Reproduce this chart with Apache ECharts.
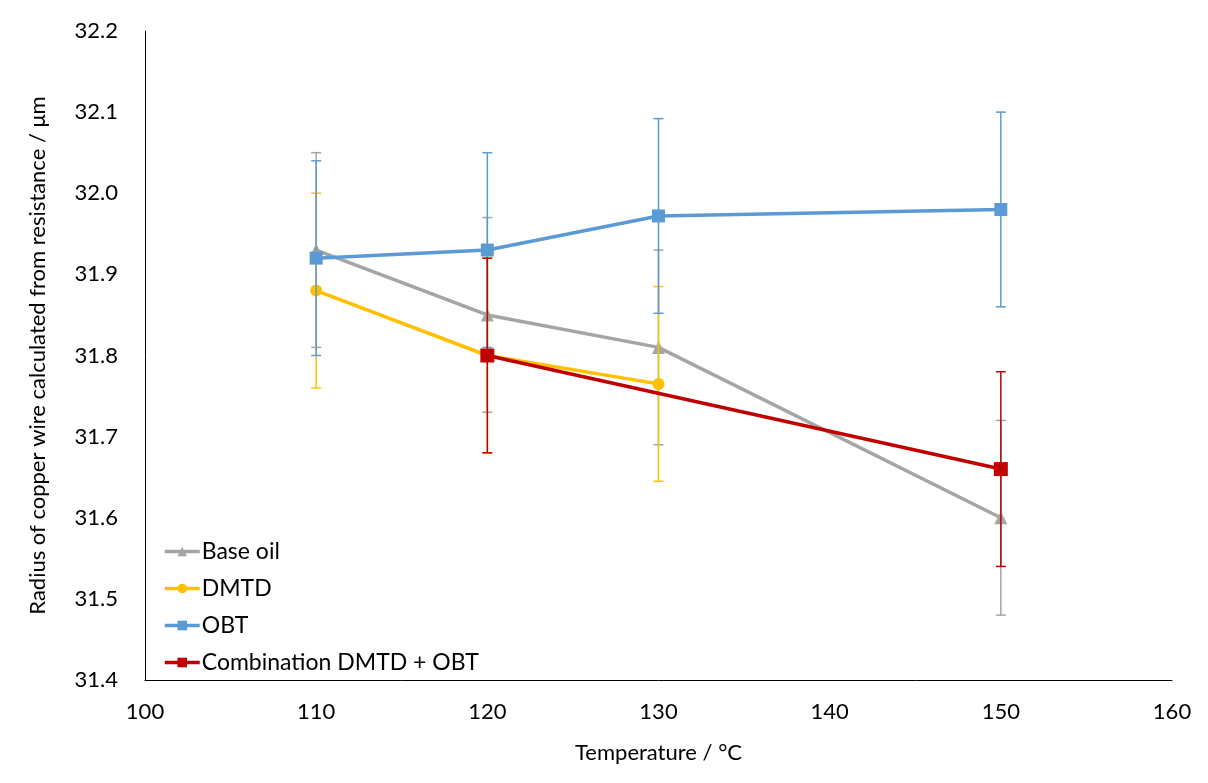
<!DOCTYPE html>
<html>
<head>
<meta charset="utf-8">
<script src="https://cdn.jsdelivr.net/npm/echarts@6/dist/echarts.min.js"></script>
<style>
html,body{margin:0;padding:0;background:#fff;}
#chart{width:1208px;height:783px;}
</style>
</head>
<body>
<div id="chart"></div>
<script>
// ---- data ----
const seriesNames = ['Base oil', 'DMTD', 'OBT', 'Combination DMTD + OBT'];
const baseOilX = [110, 120, 130, 150];
const baseOilY = [31.93, 31.85, 31.81, 31.60];
const baseOilErr = [0.12, 0.12, 0.12, 0.12];
const dmtdX = [110, 120, 130];
const dmtdY = [31.88, 31.80, 31.765];
const dmtdErr = [0.12, 0.12, 0.12];
const obtX = [110, 120, 130, 150];
const obtY = [31.92, 31.93, 31.972, 31.98];
const obtErr = [0.12, 0.12, 0.12, 0.12];
const comboX = [120, 150];
const comboY = [31.80, 31.66];
const comboErr = [0.12, 0.12];
const xTicks = [100, 110, 120, 130, 140, 150, 160];
const yTicks = [31.4, 31.5, 31.6, 31.7, 31.8, 31.9, 32.0, 32.1, 32.2];

const colors = ['#A5A5A5', '#FFC000', '#5B9BD5', '#C00000'];
const symbols = ['triangle', 'circle', 'rect', 'rect'];
const symbolSizes = [13, 12, 13, 14];
const FONT = 'Lato';

const groups = [
  [baseOilX, baseOilY, baseOilErr],
  [dmtdX, dmtdY, dmtdErr],
  [obtX, obtY, obtErr],
  [comboX, comboY, comboErr]
];

const series = [];
groups.forEach((g, i) => {
  const [xs, ys, es] = g;
  series.push({
    type: 'custom',
    name: seriesNames[i] + ' err',
    z: 2 + i * 2,
    silent: true,
    data: xs.map((x, k) => [x, ys[k] - es[k], ys[k] + es[k]]),
    renderItem: function (params, api) {
      const lo = api.coord([api.value(0), api.value(1)]);
      const hi = api.coord([api.value(0), api.value(2)]);
      const hw = 5;
      const style = { stroke: colors[i], lineWidth: 1.5 };
      return {
        type: 'group',
        children: [
          { type: 'line', shape: { x1: lo[0], y1: lo[1], x2: hi[0], y2: hi[1] }, style: style },
          { type: 'line', shape: { x1: lo[0] - hw, y1: lo[1], x2: lo[0] + hw, y2: lo[1] }, style: style },
          { type: 'line', shape: { x1: hi[0] - hw, y1: hi[1], x2: hi[0] + hw, y2: hi[1] }, style: style }
        ]
      };
    }
  });
  series.push({
    type: 'line',
    name: seriesNames[i],
    z: 3 + i * 2,
    data: xs.map((x, k) => [x, ys[k]]),
    symbol: symbols[i],
    symbolSize: symbolSizes[i],
    showAllSymbol: true,
    lineStyle: { color: colors[i], width: 3.5 },
    itemStyle: { color: colors[i] },
    emphasis: { disabled: true },
    animation: false
  });
});

const chart = echarts.init(document.getElementById('chart'), null, { renderer: 'canvas' });
chart.setOption({
  animation: false,
  backgroundColor: '#fff',
  grid: { left: 145, right: 36, top: 31, bottom: 103, containLabel: false },
  legend: {
    data: seriesNames,
    orient: 'vertical',
    left: 158,
    top: 535,
    itemWidth: 35,
    itemHeight: 12,
    itemGap: 14,
    lineStyle: { width: 3.5 },
    textStyle: { fontFamily: FONT, fontSize: 23, color: '#000', lineHeight: 23, padding: [0, 0, 0, -3] }
  },
  xAxis: {
    type: 'value',
    min: xTicks[0],
    max: xTicks[xTicks.length - 1],
    interval: 10,
    name: 'Temperature / °C',
    nameLocation: 'middle',
    nameGap: 62,
    nameTextStyle: { fontFamily: FONT, fontSize: 22, color: '#000' },
    axisLine: { show: true, lineStyle: { color: '#000', width: 1 } },
    axisTick: { show: false },
    splitLine: { show: false },
    axisLabel: { fontFamily: FONT, fontSize: 22, color: '#000', margin: 21 }
  },
  yAxis: {
    type: 'value',
    min: yTicks[0],
    max: yTicks[yTicks.length - 1],
    interval: 0.1,
    name: 'Radius of copper wire calculated from resistance / μm',
    nameLocation: 'middle',
    nameRotate: 90,
    nameGap: 96,
    nameTextStyle: { fontFamily: FONT, fontSize: 22, color: '#000' },
    axisLine: { show: true, lineStyle: { color: '#000', width: 1 } },
    axisTick: { show: false },
    splitLine: { show: false },
    axisLabel: {
      fontFamily: FONT, fontSize: 22, color: '#000', margin: 27,
      formatter: v => v.toFixed(1)
    }
  },
  series: series
});
</script>
</body>
</html>
